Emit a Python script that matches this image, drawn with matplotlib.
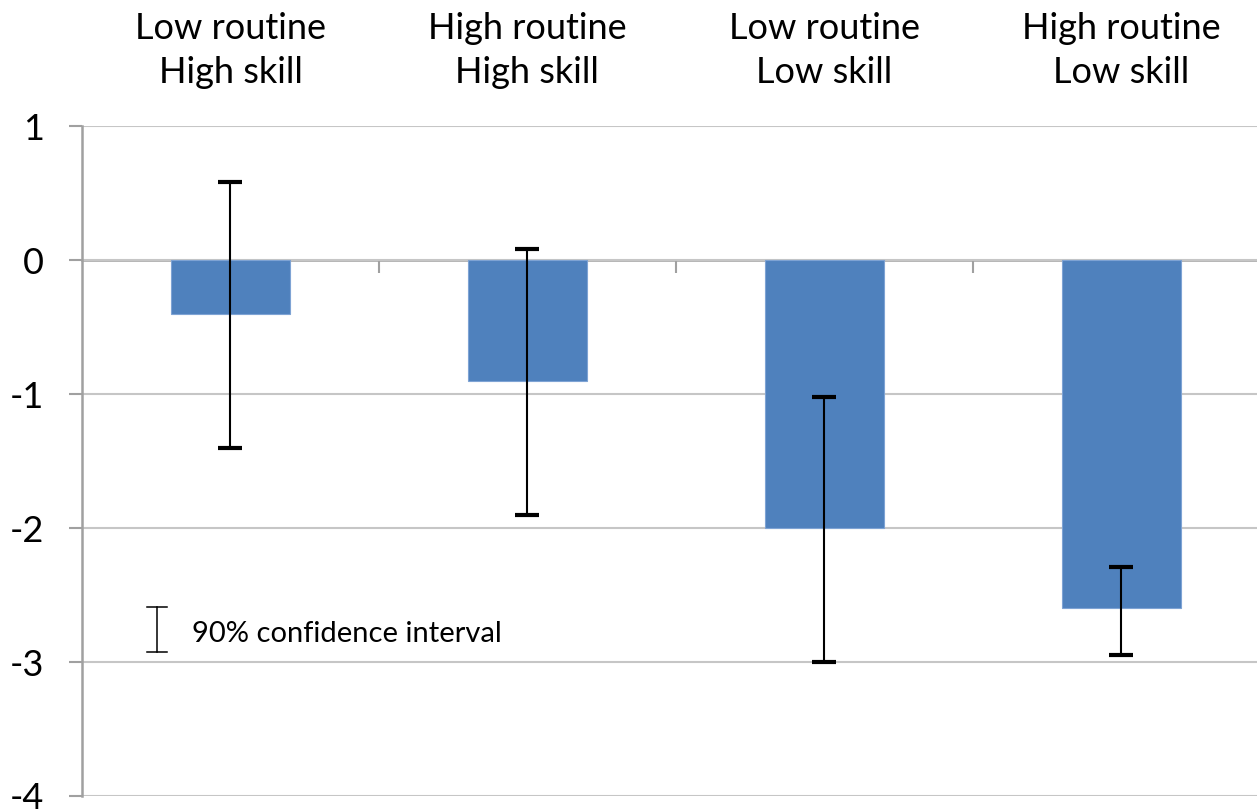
import matplotlib
matplotlib.use("Agg")
import matplotlib.pyplot as plt
import matplotlib.transforms as mtransforms
import numpy as np

# Estimated effects by task group, with 90% confidence bounds
GROUPS = ["Low routine\nHigh skill", "High routine\nHigh skill",
          "Low routine\nLow skill", "High routine\nLow skill"]
EFFECT = [-0.40, -0.90, -2.00, -2.60]
CI_LOW = [-1.40, -1.90, -3.00, -2.95]
CI_HIGH = [0.58, 0.08, -1.02, -2.29]

BAR_COLOR = "#4f81bd"
GRID_COLOR = "#c6c6c6"
AXIS_COLOR = "#a0a0a0"

plt.rcParams["font.family"] = ["Lato", "DejaVu Sans"]
plt.rcParams["axes.unicode_minus"] = False

fig = plt.figure(figsize=(12.57, 8.11), dpi=100)
# axes runs past the right edge of the figure, as in the original export
ax = fig.add_axes([0.0652, 0.0185, 0.945, 0.826])

x = np.arange(len(GROUPS))
effect = np.array(EFFECT)
err = np.vstack([effect - np.array(CI_LOW), np.array(CI_HIGH) - effect])

ax.bar(x, effect, width=0.4, color=BAR_COLOR, edgecolor="#7ea3d4",
       linewidth=0.8, zorder=2)
ax.errorbar(x, effect, yerr=err, fmt="none", ecolor="black",
            elinewidth=1.5, capsize=8.6, capthick=3, zorder=3)

ax.set_xlim(-0.5, len(GROUPS) - 0.5)
ax.set_ylim(-4, 1)

# horizontal grid
ax.set_yticks(range(-4, 2))
ax.yaxis.grid(True, color=GRID_COLOR, linewidth=1.5, zorder=0)
ax.tick_params(axis="y", direction="out", length=9.4, width=1.5,
               color=AXIS_COLOR, labelsize=26, pad=18)

# category axis sits on zero, with boundary ticks between groups
for side in ("top", "right"):
    ax.spines[side].set_visible(False)
ax.spines["bottom"].set_position(("data", 0))
ax.spines["bottom"].set_color(AXIS_COLOR)
ax.spines["bottom"].set_linewidth(1.8)
ax.spines["bottom"].set_zorder(1)
ax.spines["left"].set_color(AXIS_COLOR)
ax.spines["left"].set_linewidth(1.8)
ax.set_xticks([])
ax.set_xticks(np.arange(0.5, len(GROUPS) - 0.5), minor=True)
ax.tick_params(axis="x", which="minor", direction="out", length=9,
               width=1.5, color=AXIS_COLOR, labelbottom=False)

# group labels above the plot
trans = mtransforms.blended_transform_factory(ax.transData, ax.transAxes)
for xi, label in zip(x, GROUPS):
    ax.text(xi, 1.113, label, transform=trans, ha="center", va="center",
            fontsize=26, linespacing=1.42)

# key for the error bars
ax.plot([0.0631, 0.0631], [0.215, 0.282], transform=ax.transAxes,
        color="black", linewidth=1.1, clip_on=False)
for yk in (0.215, 0.282):
    ax.plot([0.0546, 0.0716], [yk, yk], transform=ax.transAxes,
            color="black", linewidth=1.1, clip_on=False)
ax.text(0.0926, 0.242, "90% confidence interval", transform=ax.transAxes,
        ha="left", va="center", fontsize=21)

fig.savefig("out.png", dpi=100)
